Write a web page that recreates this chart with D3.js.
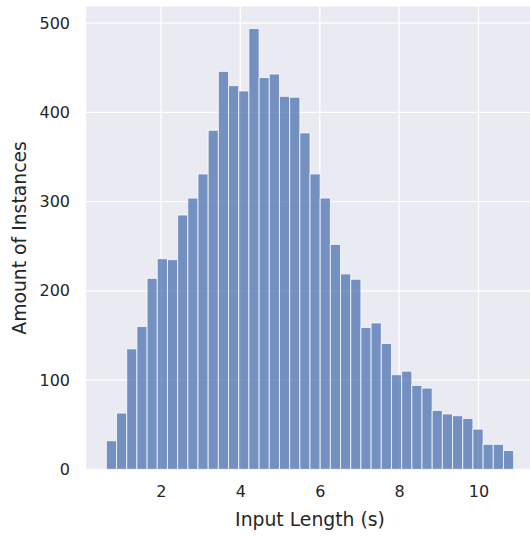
<!DOCTYPE html>
<html>
<head>
<meta charset="utf-8">
<script src="https://cdn.jsdelivr.net/npm/d3@7"></script>
<style>
  body { margin: 0; background: #fff; }
  text { font-family: "DejaVu Sans", sans-serif; fill: #262626; }
</style>
</head>
<body>
<div id="chart"></div>
<script>
/* histogram counts, one per bin */
var counts = [32, 63, 135, 160, 214, 236, 235, 285, 304, 331,
              380, 446, 430, 424, 494, 439, 443, 418, 417, 377,
              331, 304, 252, 219, 213, 159, 164, 141, 106, 110,
              94, 91, 66, 62, 60, 57, 45, 28, 28, 21];
var binMin = 0.625, binMax = 10.885;
var xTicks = [2, 4, 6, 8, 10];
var yTicks = [0, 100, 200, 300, 400, 500];

var margin = {top: 6.5, right: -4, bottom: 66.7, left: 86},
    width = 530 - margin.left - margin.right,
    height = 536 - margin.top - margin.bottom;

var binWidth = (binMax - binMin) / counts.length;
var bins = counts.map(function(c, i) {
  return {x0: binMin + i * binWidth, x1: binMin + (i + 1) * binWidth, count: c};
});

var pad = (binMax - binMin) * 0.05;
var x = d3.scaleLinear().domain([binMin - pad, binMax + pad]).range([0, width]);
var y = d3.scaleLinear().domain([0, d3.max(counts) * 1.05]).range([height, 0]);

var svg = d3.select("#chart").append("svg")
    .attr("width", 530).attr("height", 536);

var g = svg.append("g")
    .attr("transform", "translate(" + margin.left + "," + margin.top + ")");

/* background of plot area */
g.append("rect").attr("width", width).attr("height", height).attr("fill", "#eaeaf2");

/* grid lines */
g.selectAll(".xgrid").data(xTicks).enter().append("line")
    .attr("x1", x).attr("x2", x).attr("y1", 0).attr("y2", height)
    .attr("stroke", "#fff").attr("stroke-width", 1.3);
g.selectAll(".ygrid").data(yTicks).enter().append("line")
    .attr("y1", y).attr("y2", y).attr("x1", 0).attr("x2", width)
    .attr("stroke", "#fff").attr("stroke-width", 1.3);

/* bars */
g.selectAll(".bar").data(bins).enter().append("rect")
    .attr("x", function(d) { return x(d.x0); })
    .attr("width", function(d) { return x(d.x1) - x(d.x0); })
    .attr("y", function(d) { return y(d.count); })
    .attr("height", function(d) { return height - y(d.count); })
    .attr("fill", "#4c72b0").attr("fill-opacity", 0.75)
    .attr("stroke", "#fff").attr("stroke-opacity", 0.75).attr("stroke-width", 1);

/* axes, no tick marks or domain */
var xAxis = g.append("g").attr("transform", "translate(0," + height + ")")
    .call(d3.axisBottom(x).tickValues(xTicks).tickSize(0).tickPadding(16).tickFormat(d3.format("d")));
var yAxis = g.append("g")
    .call(d3.axisLeft(y).tickValues(yTicks).tickSize(0).tickPadding(16).tickFormat(d3.format("d")));
[xAxis, yAxis].forEach(function(a) {
  a.select(".domain").remove();
  a.selectAll("text").style("font-size", "16px").attr("fill", "#262626");
});

/* axis titles, centred on the whole axes box */
svg.append("text")
    .attr("x", margin.left + width / 2).attr("y", 526)
    .attr("text-anchor", "middle").style("font-size", "18.8px")
    .text("Input Length (s)");
svg.append("text")
    .attr("transform", "translate(26," + (margin.top + height / 2) + ") rotate(-90)")
    .attr("text-anchor", "middle").style("font-size", "18.8px")
    .text("Amount of Instances");
</script>
</body>
</html>
